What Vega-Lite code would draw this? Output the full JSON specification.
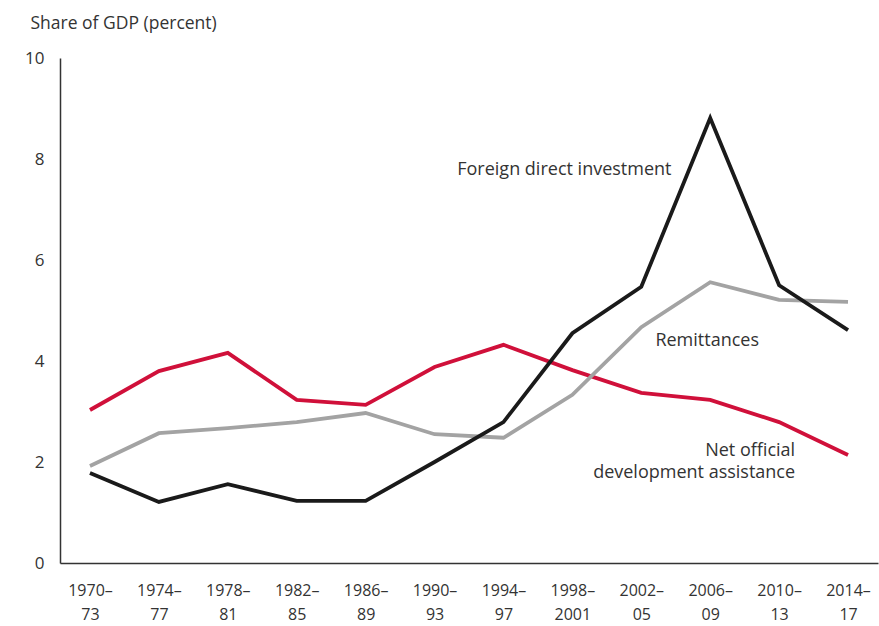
{
  "$schema": "https://vega.github.io/schema/vega-lite/v6.json",
  "width": 818,
  "height": 505,
  "autosize": {"type": "none"},
  "padding": {"left": 60, "top": 58, "right": 1, "bottom": 63},
  "background": "white",
  "config": {
    "view": {"stroke": null},
    "font": "Open Sans",
    "text": {"font": "Open Sans"}
  },
  "datasets": {
    "series": [
      {"period": "1970–73", "series": "ODA", "value": 3.03},
      {"period": "1974–77", "series": "ODA", "value": 3.80},
      {"period": "1978–81", "series": "ODA", "value": 4.16},
      {"period": "1982–85", "series": "ODA", "value": 3.23},
      {"period": "1986–89", "series": "ODA", "value": 3.13},
      {"period": "1990–93", "series": "ODA", "value": 3.88},
      {"period": "1994–97", "series": "ODA", "value": 4.32},
      {"period": "1998–2001", "series": "ODA", "value": 3.82},
      {"period": "2002–05", "series": "ODA", "value": 3.37},
      {"period": "2006–09", "series": "ODA", "value": 3.23},
      {"period": "2010–13", "series": "ODA", "value": 2.79},
      {"period": "2014–17", "series": "ODA", "value": 2.14},
      {"period": "1970–73", "series": "Remittances", "value": 1.92},
      {"period": "1974–77", "series": "Remittances", "value": 2.57},
      {"period": "1978–81", "series": "Remittances", "value": 2.67},
      {"period": "1982–85", "series": "Remittances", "value": 2.79},
      {"period": "1986–89", "series": "Remittances", "value": 2.97},
      {"period": "1990–93", "series": "Remittances", "value": 2.55},
      {"period": "1994–97", "series": "Remittances", "value": 2.48},
      {"period": "1998–2001", "series": "Remittances", "value": 3.33},
      {"period": "2002–05", "series": "Remittances", "value": 4.67},
      {"period": "2006–09", "series": "Remittances", "value": 5.56},
      {"period": "2010–13", "series": "Remittances", "value": 5.21},
      {"period": "2014–17", "series": "Remittances", "value": 5.17},
      {"period": "1970–73", "series": "FDI", "value": 1.78},
      {"period": "1974–77", "series": "FDI", "value": 1.21},
      {"period": "1978–81", "series": "FDI", "value": 1.56},
      {"period": "1982–85", "series": "FDI", "value": 1.23},
      {"period": "1986–89", "series": "FDI", "value": 1.23},
      {"period": "1990–93", "series": "FDI", "value": 2.0},
      {"period": "1994–97", "series": "FDI", "value": 2.79},
      {"period": "1998–2001", "series": "FDI", "value": 4.55},
      {"period": "2002–05", "series": "FDI", "value": 5.47},
      {"period": "2006–09", "series": "FDI", "value": 8.81},
      {"period": "2010–13", "series": "FDI", "value": 5.5},
      {"period": "2014–17", "series": "FDI", "value": 4.61}
    ],
    "labels": [
      {"key": "fdi", "period": "1998–2001", "value": 7.78, "text": "Foreign direct investment"},
      {"key": "rem", "period": "2006–09", "value": 4.40, "text": "Remittances"},
      {"key": "oda1", "period": "2010–13", "value": 2.22, "text": "Net official"},
      {"key": "oda2", "period": "2010–13", "value": 1.78, "text": "development assistance"}
    ]
  },
  "encoding": {
    "x": {
      "field": "period",
      "type": "ordinal",
      "sort": ["1970–73","1974–77","1978–81","1982–85","1986–89","1990–93","1994–97","1998–2001","2002–05","2006–09","2010–13","2014–17"],
      "scale": {"type": "point", "padding": 0.435},
      "axis": {
        "title": null,
        "domainColor": "#333333",
        "domainWidth": 1.5,
        "ticks": false,
        "labelAngle": 0,
        "labelFontSize": 16,
        "labelColor": "#333333",
        "labelPadding": 19,
        "labelLineHeight": 24,
        "labelExpr": "[split(datum.label,'–')[0] + '–', split(datum.label,'–')[1]]"
      }
    },
    "y": {
      "field": "value",
      "type": "quantitative",
      "scale": {"domain": [0, 10], "nice": false, "zero": true},
      "axis": {
        "values": [0, 2, 4, 6, 8, 10],
        "grid": false,
        "ticks": false,
        "domainColor": "#333333",
        "domainWidth": 1.5,
        "labelFontSize": 17,
        "labelColor": "#333333",
        "labelPadding": 16,
        "title": "Share of GDP (percent)",
        "titleAngle": 0,
        "titleAlign": "left",
        "titleBaseline": "alphabetic",
        "titleX": -30,
        "titleY": -30,
        "titleFontSize": 17.5,
        "titleFontWeight": "normal",
        "titleColor": "#333333"
      }
    }
  },
  "layer": [
    {
      "data": {"name": "series"},
      "mark": {"type": "line", "strokeWidth": 3.8, "strokeJoin": "miter"},
      "encoding": {
        "color": {
          "field": "series",
          "type": "nominal",
          "scale": {"domain": ["ODA", "Remittances", "FDI"], "range": ["#d0103a", "#a3a3a3", "#1a1a1a"]},
          "legend": null
        }
      }
    },
    {
      "data": {"name": "labels"},
      "transform": [{"filter": "datum.key == 'fdi'"}],
      "mark": {"type": "text", "align": "center", "baseline": "middle", "dx": -8, "fontSize": 18, "color": "#333333"},
      "encoding": {"text": {"field": "text"}}
    },
    {
      "data": {"name": "labels"},
      "transform": [{"filter": "datum.key == 'rem'"}],
      "mark": {"type": "text", "align": "center", "baseline": "middle", "dx": -3, "fontSize": 18, "color": "#333333"},
      "encoding": {"text": {"field": "text"}}
    },
    {
      "data": {"name": "labels"},
      "transform": [{"filter": "datum.key == 'oda1' || datum.key == 'oda2'"}],
      "mark": {"type": "text", "align": "right", "baseline": "middle", "dx": 16, "fontSize": 18, "color": "#333333"},
      "encoding": {"text": {"field": "text"}}
    }
  ]
}
